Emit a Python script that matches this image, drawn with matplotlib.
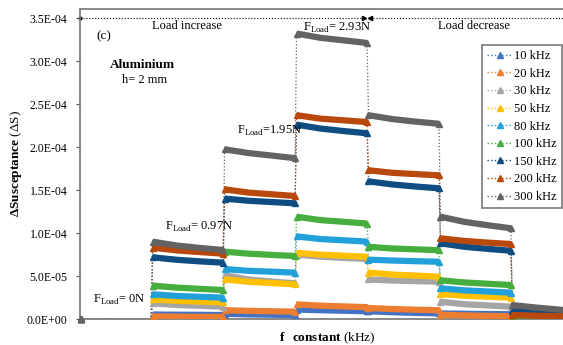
import numpy as np
import matplotlib
matplotlib.use('Agg')
import matplotlib.pyplot as plt
from matplotlib.lines import Line2D

plt.rcParams['font.family'] = ['Liberation Serif', 'DejaVu Serif']
plt.rcParams['mathtext.fontset'] = 'custom'
plt.rcParams['mathtext.rm'] = 'Liberation Serif'
plt.rcParams['mathtext.bf'] = 'Liberation Serif:bold'

# frequencies and series colours
labels = ['10 kHz', '20 kHz', '30 kHz', '50 kHz', '80 kHz',
          '100 kHz', '150 kHz', '200 kHz', '300 kHz']
colors = ['#4472C4', '#ED7D31', '#A5A5A5', '#FFC000', '#22A0DA',
          '#46AD3F', '#0F4C81', '#B8480C', '#636363']

# load steps: 0N, 0.97N, 1.95N, 2.93N, 1.95N, 0.97N, 0N
n_steps = 7
# sample positions inside one load step
step_pos = [0.01, 0.34, 0.67, 0.99]

# delta susceptance, units of 1E-05, four samples per load step
s10 = [0, 0, 0, 0,  0.52, 0.50, 0.48, 0.46,  0.60, 0.54, 0.50, 0.45,
       1.10, 1.02, 0.96, 0.90,  0.90, 0.79, 0.71, 0.65,  0.65, 0.61, 0.58, 0.55,
       0.05, 0.04, 0.03, 0.02]
s20 = [0, 0, 0, 0,  0.30, 0.27, 0.25, 0.24,  1.02, 0.95, 0.90, 0.86,
       1.70, 1.55, 1.46, 1.38,  1.28, 1.16, 1.08, 1.02,  0.50, 0.42, 0.36, 0.32,
       0.05, 0.03, 0.01, 0.0]
s30 = [0, 0, 0, 0,  1.82, 1.63, 1.53, 1.43,  5.12, 4.6, 4.35, 4.15,
       7.5, 7.25, 7.1, 6.98,  4.6, 4.47, 4.4, 4.34,  2.0, 1.72, 1.58, 1.43,
       0.01, 0.0, -0.005, -0.01]
s50 = [0, 0, 0, 0,  2.29, 2.12, 2.03, 1.94,  4.6, 4.33, 4.18, 4.03,
       7.7, 7.48, 7.36, 7.24,  5.4, 5.17, 5.05, 4.92,  2.9, 2.7, 2.6, 2.48,
       -0.02, -0.03, -0.035, -0.04]
s80 = [0, 0, 0, 0,  2.87, 2.68, 2.58, 2.48,  5.81, 5.6, 5.5, 5.39,
       9.6, 9.3, 9.15, 9.0,  6.9, 6.8, 6.72, 6.66,  3.57, 3.33, 3.2, 3.06,
       0.02, 0.01, 0.0, -0.01]
s100 = [0, 0, 0, 0,  3.88, 3.65, 3.5, 3.37,  7.83, 7.6, 7.45, 7.33,
        11.9, 11.5, 11.3, 11.1,  8.4, 8.2, 8.1, 8.0,  4.5, 4.25, 4.1, 3.95,
        0.10, 0.07, 0.05, 0.03]
s150 = [0, 0, 0, 0,  7.17, 6.89, 6.7, 6.55,  14.0, 13.75, 13.6, 13.45,
        22.6, 22.15, 21.85, 21.6,  16.0, 15.65, 15.4, 15.2,  8.8, 8.4, 8.15, 7.94,
        0.95, 0.83, 0.73, 0.65]
s200 = [0, 0, 0, 0,  8.3, 7.98, 7.78, 7.6,  15.08, 14.7, 14.5, 14.3,
        23.7, 23.3, 23.1, 22.9,  17.3, 17.0, 16.85, 16.7,  9.38, 9.08, 8.88, 8.72,
        0.46, 0.38, 0.32, 0.26]
s300 = [0, 0, 0, 0,  8.99, 8.55, 8.26, 8.02,  19.73, 19.3, 19.0, 18.7,
        33.2, 32.7, 32.4, 32.1,  23.7, 23.25, 22.95, 22.7,  11.9, 11.3, 10.9, 10.55,
        1.62, 1.33, 1.08, 0.83]
series = [s10, s20, s30, s50, s80, s100, s150, s200, s300]

x = np.array([k + p for k in range(n_steps) for p in step_pos])
per_step = len(step_pos)

fig = plt.figure(figsize=(5.63, 3.45), dpi=100)
ax = fig.add_axes([80 / 563, 26 / 345, 1.02 - 80 / 563, 310 / 345])

for vals, col in zip(series, colors):
    y = np.array(vals) * 1e-5
    # thin dotted connector through every sample
    ax.plot(x, y, ls=':', lw=0.9, color=col, zorder=2)
    # dense readings of each loaded step show up as a thick band
    for k in range(1, n_steps):
        sl = slice(k * per_step, (k + 1) * per_step)
        ax.plot(x[sl], y[sl], ls='-', lw=4.5, color=col,
                solid_capstyle='butt', solid_joinstyle='round',
                marker='^', ms=4.5, markevery=[0, per_step - 1], zorder=3)
    ax.plot(x[0], y[0], marker='^', ms=4, color=col, clip_on=False, zorder=4)

ax.set_xlim(0, 6.87)
ax.set_ylim(0, 3.605e-4)
ticks = np.arange(0, 3.51e-4, 5e-5)
ax.set_yticks(ticks)
ax.set_yticklabels(['%.1E' % v for v in ticks], fontsize=8.5)
ax.set_xticks([])
ax.tick_params(axis='y', direction='out', length=3, color='#595959', pad=6)

for side in ['left', 'bottom', 'top']:
    ax.spines[side].set_color('#7f7f7f')
    ax.spines[side].set_linewidth(1.3)
ax.spines['right'].set_visible(False)

# load increase / decrease arrows along the top
peak_end = 4.0
top = 3.5e-4
ax.plot([0, peak_end - 0.05], [top, top], ls=':', lw=0.8, color='black')
ax.plot([peak_end + 0.03, 6.87], [top, top], ls=':', lw=0.8, color='black')
ax.plot(0, top, marker='o', ms=2, color='black', clip_on=False)
ax.plot(peak_end - 0.05, top, marker='>', ms=3, color='black')
ax.plot(peak_end + 0.03, top, marker='<', ms=3, color='black')

ax.text(1.49, 3.41e-4, 'Load increase', ha='center', va='center', fontsize=9)
ax.text(5.48, 3.41e-4, 'Load decrease', ha='center', va='center', fontsize=9)
ax.text(0.33, 3.29e-4, '(c)', ha='center', va='center', fontsize=9.5)
ax.text(0.87, 2.95e-4, 'Aluminium', ha='center', va='center', fontsize=9.5,
        fontweight='bold')
ax.text(0.9, 2.78e-4, 'h= 2 mm', ha='center', va='center', fontsize=9)

ax.text(3.58, 3.39e-4, r'F$_{\rm Load}$= 2.93N', ha='center', va='center', fontsize=9)
ax.text(2.63, 2.19e-4, r'F$_{\rm Load}$=1.95N', ha='center', va='center', fontsize=9)
ax.text(1.65, 1.07e-4, r'F$_{\rm Load}$= 0.97N', ha='center', va='center', fontsize=9)
ax.text(0.54, 2.2e-5, r'F$_{\rm Load}$= 0N', ha='center', va='center', fontsize=9)

ax.set_ylabel(r'$\mathbf{\Delta Susceptance}$ ($\Delta$S)', fontsize=9.5, labelpad=2)
ax.set_xlabel(r'$\mathbf{f\ \ constant}$ (kHz)', fontsize=9.5, labelpad=8)

handles = [Line2D([0], [0], ls=':', lw=1, color=c, marker='^', ms=4)
           for c in colors]
leg = ax.legend(handles, labels, loc='upper left',
                bbox_to_anchor=(482 / 563, 1 - 45 / 345),
                bbox_transform=fig.transFigure, fontsize=9,
                frameon=True, fancybox=False, handlelength=2.0,
                labelspacing=0.45, borderaxespad=0, handletextpad=0.2)
leg.get_frame().set_edgecolor('#595959')
leg.get_frame().set_linewidth(1.2)

fig.savefig('out.png', dpi=100)
